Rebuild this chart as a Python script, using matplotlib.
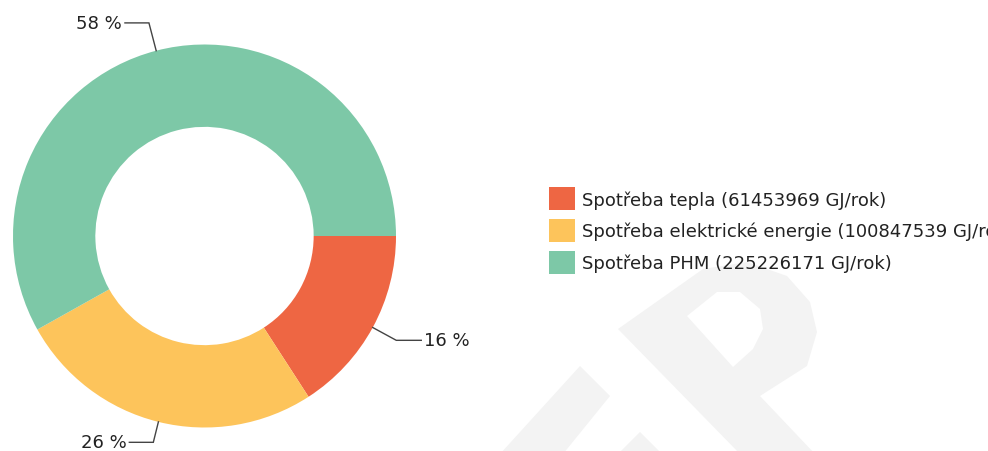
import numpy as np
import matplotlib
matplotlib.use("Agg")
from matplotlib import pyplot as plt
from matplotlib.path import Path
from matplotlib.patches import PathPatch

labels = ["Spotřeba tepla (61453969 GJ/rok)",
          "Spotřeba elektrické energie (100847539 GJ/rok)",
          "Spotřeba PHM (225226171 GJ/rok)"]
values = [61453969, 100847539, 225226171]
colors = ["#EE6643", "#FDC45B", "#7DC8A7"]

# leader line styling per slice (elbow radius, arm length in px)
elbow_r = [1.14, 1.11, 1.15]
arm_px = [25, 24, 24]

W, H = 988, 452
cx, cy, R = 204.5, 452 - 237, 191.5
s = 1.25

fig = plt.figure(figsize=(W / 100, H / 100), dpi=100)


def wm(points, holes=()):
    # faint background logo, pixel coords from top-left
    verts, codes = [], []
    for poly in (points,) + tuple(holes):
        pts = [(x, H - y) for x, y in poly]
        verts += pts + [pts[0]]
        codes += [Path.MOVETO] + [Path.LINETO] * (len(pts) - 1) + [Path.CLOSEPOLY]
    p = PathPatch(Path(verts, codes), transform=None, fc="#f3f3f3", ec="none", zorder=-10)
    fig.patches.append(p)


wm([(580, 367), (610, 397), (563, 455), (500, 455)])
wm([(640, 433), (662, 455), (618, 455)])
hole = [(687, 317), (717, 293), (740, 293), (760, 310), (763, 330), (753, 350), (733, 368)]
wm([(618, 330), (703, 270), (747, 263), (787, 277), (810, 303), (817, 333),
    (807, 367), (760, 397), (815, 455), (740, 455)],
   holes=[hole[::-1]])

side = 2 * R * s
ax = fig.add_axes([(cx - R * s) / W, (cy - R * s) / H, side / W, side / H])
ax.set_aspect("equal")
ax.axis("off")

wedges, _ = ax.pie(values, colors=colors, startangle=0, counterclock=False,
                   radius=1, wedgeprops=dict(width=0.43, linewidth=0))
ax.set_xlim(-s, s)
ax.set_ylim(-s, s)

total = sum(values)
for w, v, er, arm in zip(wedges, values, elbow_r, arm_px):
    ang = np.deg2rad((w.theta1 + w.theta2) / 2)
    x0, y0 = np.cos(ang), np.sin(ang)
    x1, y1 = er * x0, er * y0
    sign = 1 if x0 > 0 else -1
    x2 = x1 + sign * arm / R
    ax.plot([x0, x1, x2], [y0, y1, y1], color="#444444", lw=1.0,
            clip_on=False, solid_joinstyle="miter")
    ax.text(x2 + sign * 3 / R, y1, "%d %%" % round(100 * v / total),
            ha="left" if sign > 0 else "right", va="center",
            fontsize=13, color="#222222")

fig.legend(wedges, labels, loc="upper left",
           bbox_to_anchor=(549 / W, 1 - 188 / H), frameon=False,
           fontsize=13, handlelength=1.45, handleheight=1.6,
           handletextpad=0.4, labelspacing=0.48, borderaxespad=0,
           borderpad=0, labelcolor="#222222")

fig.savefig("out.png", dpi=100)
